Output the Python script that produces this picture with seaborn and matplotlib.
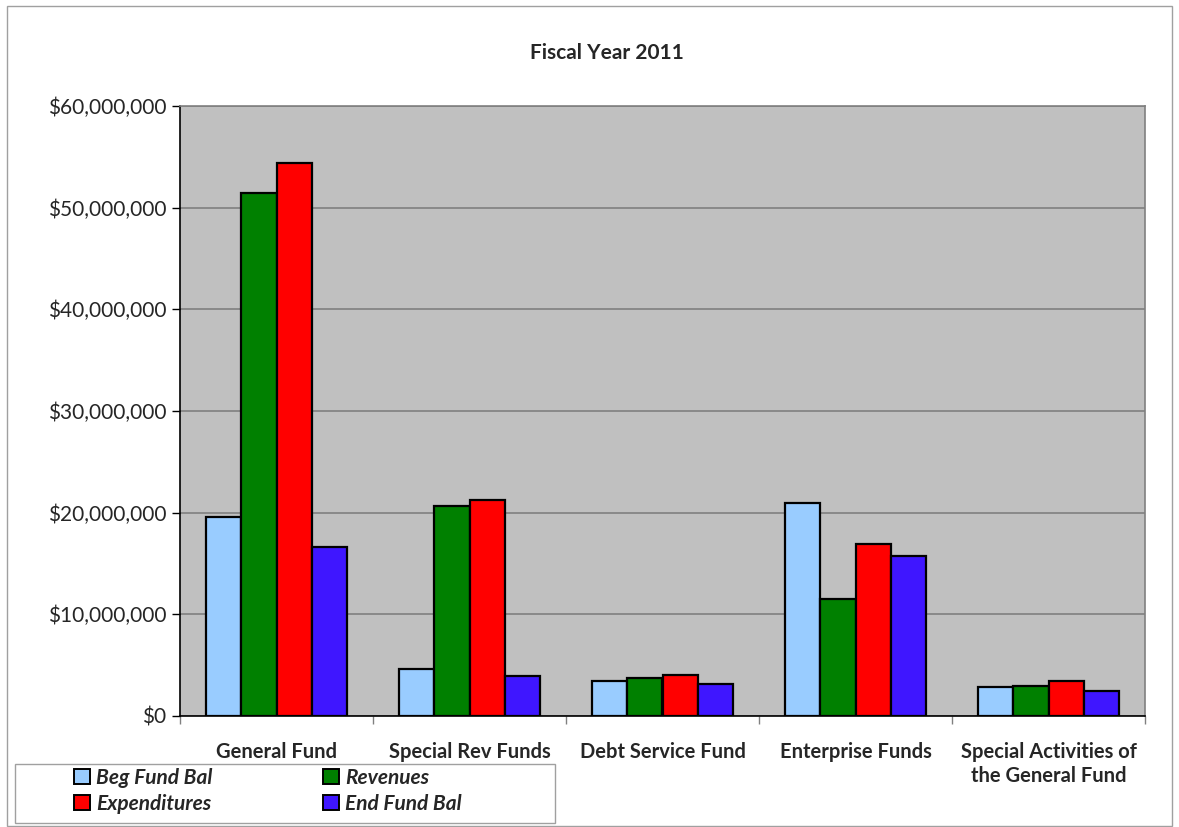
import matplotlib
matplotlib.use("Agg")
import matplotlib.pyplot as plt
import matplotlib.patches as mpatches
import matplotlib.ticker as mticker
import seaborn as sns
import pandas as pd

categories = ["General Fund", "Special Rev Funds", "Debt Service Fund",
              "Enterprise Funds", "Special Activities of\nthe General Fund"]
series = ["Beg Fund Bal", "Revenues", "Expenditures", "End Fund Bal"]
beg_fund_bal = [19.6e6, 4.6e6, 3.4e6, 21.0e6, 2.9e6]
revenues = [51.4e6, 20.65e6, 3.7e6, 11.5e6, 3.0e6]
expenditures = [54.4e6, 21.2e6, 4.0e6, 16.9e6, 3.4e6]
end_fund_bal = [16.6e6, 3.9e6, 3.1e6, 15.7e6, 2.45e6]
colors = ["#99CCFF", "#008000", "#FF0000", "#3F16FF"]
yticks = [0, 10e6, 20e6, 30e6, 40e6, 50e6, 60e6]

rows = []
for s, vals in zip(series, [beg_fund_bal, revenues, expenditures, end_fund_bal]):
    for c, v in zip(categories, vals):
        rows.append({"Fund": c, "Series": s, "Value": v})
df = pd.DataFrame(rows)

sns.set_theme(style="white")
plt.rcParams["font.family"] = ["Lato", "DejaVu Sans"]

W, H = 1179, 827
fig = plt.figure(figsize=(W / 100, H / 100), dpi=100)
ax = fig.add_axes([180 / W, 1 - 716 / H, 965 / W, 610 / H])
ax.set_facecolor("#C0C0C0")

sns.barplot(data=df, x="Fund", y="Value", hue="Series", order=categories,
            hue_order=series, palette=colors, width=0.73, gap=0,
            edgecolor="black", linewidth=1.6, saturation=1, ax=ax,
            legend=False, zorder=3)

ax.set_ylim(0, 60e6)
ax.set_xlim(-0.5, 4.5)
ax.set_yticks(yticks)
ax.yaxis.set_major_formatter(mticker.FuncFormatter(lambda v, p: f"${v:,.0f}"))
ax.grid(axis="y", color="#808080", linewidth=1.2, zorder=0)
ax.set_axisbelow(True)
ax.set_xlabel("")
ax.set_ylabel("")
ax.tick_params(axis="y", labelsize=15, length=6, width=1, color="black",
               direction="out", left=True, pad=4)
ax.tick_params(axis="x", labelsize=14.5, length=0, pad=19)
for lab in ax.get_xticklabels():
    lab.set_fontweight("bold")
    lab.set_linespacing(1.25)
ax.set_xticks([-0.5, 0.5, 1.5, 2.5, 3.5, 4.5], minor=True)
ax.tick_params(axis="x", which="minor", length=6, width=1, color="#808080",
               direction="out", bottom=True)
for side in ["top", "right"]:
    ax.spines[side].set_color("#808080")
    ax.spines[side].set_linewidth(1.2)
for side in ["left", "bottom"]:
    ax.spines[side].set_color("black")
    ax.spines[side].set_linewidth(1.2)

fig.text(607 / W, 1 - 53 / H, "Fiscal Year 2011", ha="center", va="center",
         fontsize=15, fontweight="bold")

# legend frame
fig.patches.append(mpatches.Rectangle((15 / W, 1 - 823 / H), 540 / W, 59 / H,
                   transform=fig.transFigure, facecolor="white",
                   edgecolor="#A0A0A0", linewidth=1, zorder=0))

order = [0, 2, 1, 3]
handles = [mpatches.Patch(facecolor=colors[i], edgecolor="black", linewidth=1.4,
                          label=series[i]) for i in order]
leg = fig.legend(handles=handles, ncol=2, loc="center",
                 bbox_to_anchor=(268 / W, 1 - 791 / H),
                 prop={"weight": "bold", "style": "italic", "size": 15},
                 frameon=False, handlelength=0.75, handleheight=0.75,
                 handletextpad=0.3, labelspacing=0.28, columnspacing=5.3,
                 borderpad=0.2)

fig.patches.append(mpatches.Rectangle((7 / W, 1 / H), 1165 / W, 820 / H,
                   transform=fig.transFigure, fill=False, edgecolor="#A0A0A0",
                   linewidth=1))

fig.savefig("out.png", dpi=100, facecolor="white")
